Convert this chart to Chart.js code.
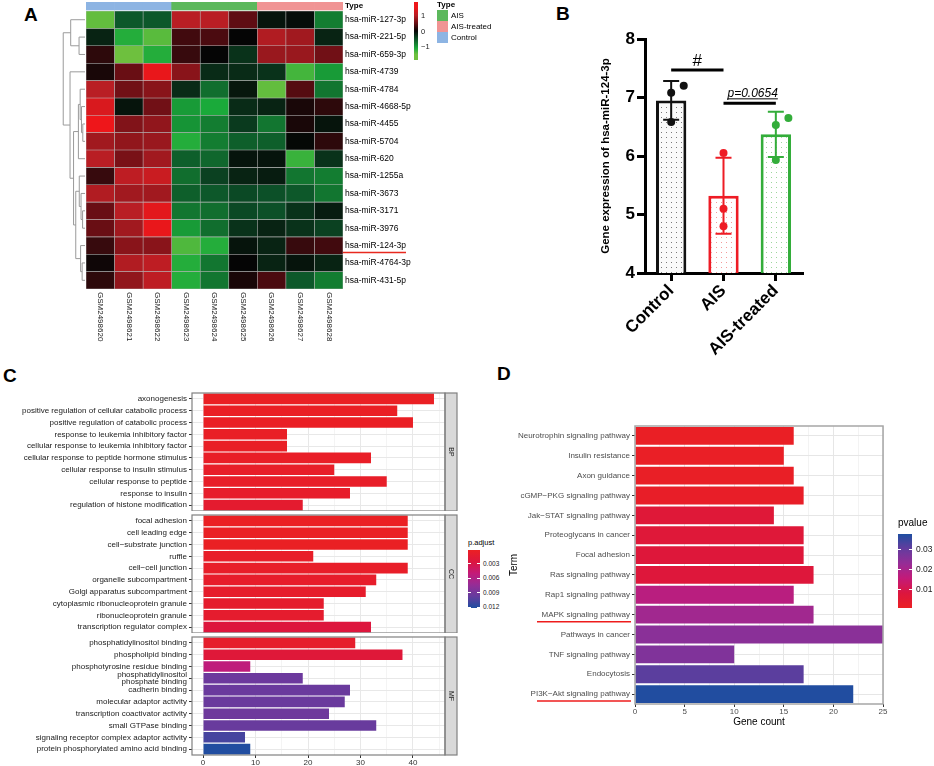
<!DOCTYPE html>
<html>
<head>
<meta charset="utf-8">
<title>miR-124-3p figure</title>
<script src="https://cdn.jsdelivr.net/npm/chart.js@4.4.1/dist/chart.umd.min.js"></script>
<style>
  body { margin: 0; background: #fff; }
  #page { position: relative; width: 934px; height: 766px; overflow: hidden; background: #fff;
          font-family: "Liberation Sans", Arial, sans-serif; color: #000; }
  #page canvas, #page .abs { position: absolute; }
  .panel { font-weight: bold; font-size: 19px; line-height: 1; }
</style>
</head>
<body>
<div id="page">
  <div class="abs panel" style="left:24px;top:5px">A</div>
  <div class="abs panel" style="left:556px;top:4px">B</div>
  <div class="abs panel" style="left:3px;top:366px">C</div>
  <div class="abs panel" style="left:497px;top:364px">D</div>
  <canvas id="heat" width="420" height="345" style="left:0;top:0"></canvas>
  <canvas id="expr" width="221" height="350" style="left:599px;top:20px"></canvas>
  <canvas id="goBP" width="460" height="119" style="left:0;top:392px"></canvas>
  <canvas id="goCC" width="460" height="119" style="left:0;top:514px"></canvas>
  <canvas id="goMF" width="460" height="131" style="left:0;top:636px"></canvas>
  <canvas id="kegg" width="426" height="328" style="left:508px;top:400px"></canvas>
</div>
<script>
Chart.defaults.font.family = '"Liberation Sans", Arial, sans-serif';
const FONT = '"Liberation Sans", Arial, sans-serif';

// ---- panel A : heatmap ----
const samples = ['GSM2498620', 'GSM2498621', 'GSM2498622', 'GSM2498623', 'GSM2498624',
                 'GSM2498625', 'GSM2498626', 'GSM2498627', 'GSM2498628'];
const sampleType = ['Control', 'Control', 'Control', 'AIS', 'AIS', 'AIS',
                    'AIS-treated', 'AIS-treated', 'AIS-treated'];
const typeLevels = ['AIS', 'AIS-treated', 'Control'];
const mirnas = ['hsa-miR-127-3p', 'hsa-miR-221-5p', 'hsa-miR-659-3p', 'hsa-miR-4739', 'hsa-miR-4784',
                'hsa-miR-4668-5p', 'hsa-miR-4455', 'hsa-miR-5704', 'hsa-miR-620', 'hsa-miR-1255a',
                'hsa-miR-3673', 'hsa-miR-3171', 'hsa-miR-3976', 'hsa-miR-124-3p', 'hsa-miR-4764-3p',
                'hsa-miR-431-5p'];
const zscores = [
  [-1.45, -0.55, -0.55, 1.0, 1.0, 0.45, -0.1, -0.05, -0.8],
  [-0.2, -1.15, -1.4, 0.3, 0.35, 0.0, 0.95, 0.85, -0.2],
  [0.2, -1.5, -1.15, 0.25, 0.0, -0.3, 0.8, 0.8, 0.55],
  [0.1, 0.5, 1.45, 0.7, -0.25, -0.25, -0.3, -1.3, -1.0],
  [1.0, 0.55, 0.7, -0.25, -0.7, -0.12, -1.45, 0.4, -0.75],
  [1.3, -0.1, 0.55, -1.0, -1.1, -0.25, -0.2, 0.1, 0.2],
  [1.5, 0.65, 0.75, -0.95, -0.8, -0.35, -0.75, 0.1, -0.1],
  [0.85, 0.75, 0.8, -1.15, -0.8, -0.6, -0.6, -0.02, 0.2],
  [1.0, 0.6, 0.85, -0.6, -0.65, -0.1, -0.1, -1.25, -0.3],
  [0.25, 1.05, 1.15, -0.7, -0.4, -0.2, -0.15, -0.75, -0.8],
  [0.95, 0.85, 0.85, -0.6, -0.55, -0.45, -0.5, -0.55, -0.75],
  [0.5, 1.0, 1.4, -0.75, -0.7, -0.45, -0.5, -0.3, -0.15],
  [0.5, 0.85, 1.45, -1.0, -0.7, -0.3, -0.2, -0.3, -0.4],
  [0.25, 0.7, 0.7, -1.35, -1.15, -0.1, -0.2, 0.25, 0.3],
  [0.05, 0.95, 1.05, -1.15, -0.75, 0.0, -0.2, -0.1, -0.2],
  [0.2, 0.75, 1.05, -1.15, -0.75, 0.1, 0.35, -0.55, -0.8]
];
// row clustering: [height, left, right], leaves are row indexes
const dendrogram = [9.9,
  [6.5, 0, [2.7, 1, 2]],
  [6.8, 3,
    [5.2,
      [3.0, [2.2, 4, [1.6, 5, [1.0, 6, 7]]], 8],
      [4.2, [2.6, 9, [1.8, 10, [1.1, 11, 12]]], [2.0, 13, [1.3, 14, 15]]]]]];
const keyRange = [-1.85, 1.85];
const keyTicks = [1, 0, -1];
const mirHighlight = 'hsa-miR-124-3p';

// ---- panel B ----
const groups = ['Control', 'AIS', 'AIS-treated'];
const groupMean = [6.95, 5.32, 6.37];
const groupSd = [0.33, 0.65, 0.385];
const groupPoints = [[7.08, 7.2, 6.58], [6.05, 5.1, 4.8], [6.53, 6.65, 5.93]];
const pointJitter = [[0, 0.24, 0], [0, 0, 0], [0, 0.24, 0]];
const comparisons = [{a: 0, b: 1, y: 7.47, text: '#'}, {a: 1, b: 2, y: 6.9, text: 'p=0.0654'}];

// ---- panel C : GO ----
const bpTerms = ['axonogenesis', 'positive regulation of cellular catabolic process',
  'positive regulation of catabolic process', 'response to leukemia inhibitory factor',
  'cellular response to leukemia inhibitory factor', 'cellular response to peptide hormone stimulus',
  'cellular response to insulin stimulus', 'cellular response to peptide', 'response to insulin',
  'regulation of histone modification'];
const bpCount = [44, 37, 40, 16, 16, 32, 25, 35, 28, 19];
const bpPadj = [0.0002, 0.0003, 0.0003, 0.0004, 0.0004, 0.0005, 0.0006, 0.0006, 0.0008, 0.0012];
const ccTerms = ['focal adhesion', 'cell leading edge', 'cell−substrate junction', 'ruffle',
  'cell−cell junction', 'organelle subcompartment', 'Golgi apparatus subcompartment',
  'cytoplasmic ribonucleoprotein granule', 'ribonucleoprotein granule', 'transcription regulator complex'];
const ccCount = [39, 39, 39, 21, 39, 33, 31, 23, 23, 32];
const ccPadj = [0.0001, 0.0002, 0.0002, 0.0006, 0.0006, 0.0008, 0.0009, 0.0010, 0.0011, 0.0024];
const mfTerms = ['phosphatidylinositol binding', 'phospholipid binding', 'phosphotyrosine residue binding',
  ['phosphatidylinositol', 'phosphate binding'], 'cadherin binding', 'molecular adaptor activity',
  'transcription coactivator activity', 'small GTPase binding',
  'signaling receptor complex adaptor activity', 'protein phosphorylated amino acid binding'];
const mfCount = [29, 38, 9, 19, 28, 27, 24, 33, 8, 9];
const mfPadj = [0.0009, 0.0021, 0.0052, 0.0094, 0.0095, 0.0095, 0.0093, 0.0096, 0.0108, 0.0121];
const padjRange = [0.0001, 0.0122];
const padjTicks = [0.003, 0.006, 0.009, 0.012];
const goTicks = [0, 5, 10, 15, 20, 25, 30, 35, 40, 45];

// ---- panel D : KEGG ----
const keggTerms = ['Neurotrophin signaling pathway', 'Insulin resistance', 'Axon guidance',
  'cGMP−PKG signaling pathway', 'Jak−STAT signaling pathway', 'Proteoglycans in cancer',
  'Focal adhesion', 'Ras signaling pathway', 'Rap1 signaling pathway', 'MAPK signaling pathway',
  'Pathways in cancer', 'TNF signaling pathway', 'Endocytosis', 'PI3K−Akt signaling pathway'];
const keggCount = [16, 15, 16, 17, 14, 17, 17, 18, 16, 18, 25, 10, 17, 22];
const keggP = [0.0010, 0.0012, 0.0014, 0.0018, 0.0062, 0.0065, 0.0068, 0.0070,
               0.0170, 0.0210, 0.0245, 0.0260, 0.0310, 0.0372];
const pvalRange = [0.0005, 0.0375];
const pvalTicks = [0.01, 0.02, 0.03];
const keggTicks = [0, 2.5, 5, 7.5, 10, 12.5, 15, 17.5, 20, 22.5, 25];
const keggHighlight = ['MAPK signaling pathway', 'PI3K−Akt signaling pathway'];

// ---- colours ----
const rgb = c => `rgb(${c.map(v => Math.round(v)).join(',')})`;
function ramp(stops, t) {
  if (t <= stops[0][0]) return rgb(stops[0][1]);
  for (let i = 1; i < stops.length; i++) {
    if (t <= stops[i][0]) {
      const [t0, c0] = stops[i - 1], [t1, c1] = stops[i];
      const f = (t - t0) / (t1 - t0);
      return rgb(c0.map((v, k) => v + (c1[k] - v) * f));
    }
  }
  return rgb(stops[stops.length - 1][1]);
}
const heatStops = [[-1.5, [110, 192, 62]], [-1.1, [26, 170, 58]], [-0.5, [12, 80, 40]], [0, [5, 5, 5]],
                   [0.5, [105, 14, 20]], [1.0, [185, 30, 36]], [1.5, [238, 22, 26]]];
const rbStops = [[0, [235, 32, 35]], [0.2, [220, 22, 62]], [0.4, [196, 26, 120]],
                 [0.6, [150, 44, 150]], [0.8, [100, 60, 158]], [1, [30, 78, 160]]];
const heatColor = v => ramp(heatStops, v);
const padjColor = p => ramp(rbStops, (p - padjRange[0]) / (padjRange[1] - padjRange[0]));
const pvalColor = p => ramp(rbStops, (p - pvalRange[0]) / (pvalRange[1] - pvalRange[0]));
const typeColor = {'Control': '#8db4e3', 'AIS': '#5cb85c', 'AIS-treated': '#f09494'};

// ================= A =================
const heatExtras = {
  id: 'heatExtras',
  afterDraw(chart) {
    const {ctx, chartArea: area, scales: {x, y}} = chart;
    ctx.save();
    ctx.fillStyle = '#222';
    ctx.font = '8px ' + FONT;
    ctx.textAlign = 'left';
    ctx.textBaseline = 'middle';
    samples.forEach((s, i) => {
      ctx.save();
      ctx.translate(x.getPixelForValue(i), area.bottom + 3);
      ctx.rotate(Math.PI / 2);
      ctx.fillText(s, 0, 0);
      ctx.restore();
    });
    // dendrogram
    ctx.strokeStyle = '#9a9a9a';
    ctx.lineWidth = 1;
    ctx.beginPath();
    const unit = 2.2;
    const walk = node => {
      if (typeof node === 'number') return {x: area.left - 1, y: y.getPixelForValue(node + 0.5)};
      const a = walk(node[1]), b = walk(node[2]);
      const nx = area.left - 1 - node[0] * unit;
      ctx.moveTo(a.x, a.y); ctx.lineTo(nx, a.y); ctx.lineTo(nx, b.y); ctx.lineTo(b.x, b.y);
      return {x: nx, y: (a.y + b.y) / 2};
    };
    walk(dendrogram);
    ctx.stroke();
    // highlight
    const r = mirnas.indexOf(mirHighlight);
    const uy = y.getPixelForValue(r + 0.5) + 7;
    ctx.strokeStyle = '#e8291f';
    ctx.lineWidth = 1.5;
    ctx.beginPath(); ctx.moveTo(area.right, uy); ctx.lineTo(area.right + 63, uy); ctx.stroke();
    ctx.restore();
  }
};

new Chart(document.getElementById('heat'), {
  type: 'bar',
  data: {
    labels: samples,
    datasets: [
      {data: samples.map(() => [-0.52, -0.06]), backgroundColor: sampleType.map(t => typeColor[t]), borderWidth: 0}
    ].concat(mirnas.map((m, r) => ({
      data: samples.map(() => [r, r + 1]),
      backgroundColor: zscores[r].map(heatColor),
      borderColor: 'rgba(150,150,150,0.55)',
      borderWidth: 0.6
    })))
  },
  options: {
    responsive: false, animation: false,
    layout: {padding: {left: 86, top: 2, bottom: 56, right: 0}},
    plugins: {legend: {display: false}, tooltip: {enabled: false}},
    datasets: {bar: {grouped: false, barPercentage: 1, categoryPercentage: 1, borderSkipped: false}},
    scales: {
      x: {display: false},
      y: {
        position: 'right', reverse: true, min: -0.52, max: 16,
        grid: {display: false, drawTicks: false}, border: {display: false},
        afterBuildTicks: ax => { ax.ticks = [{value: -0.29}].concat(mirnas.map((m, i) => ({value: i + 0.5}))); },
        ticks: {
          autoSkip: false, padding: 2, color: '#000',
          callback: (v, i) => i === 0 ? 'Type' : mirnas[i - 1],
          font: c => c.index === 0 ? {size: 8, weight: 'bold'} : {size: 8.5}
        },
        afterFit: ax => { ax.width = 77; ax.paddingTop = 0; ax.paddingBottom = 0; }
      }
    }
  },
  plugins: [heatExtras]
});

// ================= B =================
const exprCanvas = document.getElementById('expr');
const ectx = exprCanvas.getContext('2d');
function dots(bg, dot) {
  const t = document.createElement('canvas');
  t.width = 5; t.height = 5;
  const g = t.getContext('2d');
  g.fillStyle = bg; g.fillRect(0, 0, 5, 5);
  g.fillStyle = dot; g.fillRect(2, 2, 1, 1);
  return ectx.createPattern(t, 'repeat');
}
const groupColor = ['#111111', '#ee1c25', '#33ad3a'];
const groupFill = [dots('#fafafa', '#7a7a7a'), dots('#ffffff', '#f29a9a'), dots('#ffffff', '#9dd69d')];

const barExtras = {
  id: 'barExtras',
  beforeDatasetDraw(chart, args) {
    if (args.index !== 1) return;
    const {ctx, scales: {x, y}} = chart;
    ctx.save();
    ctx.lineWidth = 2;
    groupMean.forEach((m, i) => {
      const cx = x.getPixelForValue(i);
      const top = y.getPixelForValue(m + groupSd[i]), bot = y.getPixelForValue(m - groupSd[i]);
      ctx.strokeStyle = groupColor[i];
      ctx.beginPath();
      ctx.moveTo(cx, top); ctx.lineTo(cx, bot);
      ctx.moveTo(cx - 8, top); ctx.lineTo(cx + 8, top);
      ctx.moveTo(cx - 8, bot); ctx.lineTo(cx + 8, bot);
      ctx.stroke();
    });
    ctx.restore();
  },
  afterDatasetsDraw(chart) {
    const {ctx, scales: {x, y}} = chart;
    ctx.save();
    comparisons.forEach(c => {
      const x1 = x.getPixelForValue(c.a), x2 = x.getPixelForValue(c.b), ly = y.getPixelForValue(c.y);
      ctx.strokeStyle = '#000'; ctx.lineWidth = 3;
      ctx.beginPath(); ctx.moveTo(x1, ly); ctx.lineTo(x2, ly); ctx.stroke();
      ctx.fillStyle = '#000'; ctx.textAlign = 'center'; ctx.textBaseline = 'alphabetic';
      const mid = (x1 + x2) / 2;
      if (c.text === '#') {
        ctx.font = '17px ' + FONT;
        ctx.fillText(c.text, mid, ly - 4);
      } else {
        ctx.font = 'italic 12px ' + FONT;
        const w = ctx.measureText(c.text).width;
        ctx.fillText(c.text, mid + 3, ly - 6);
        ctx.lineWidth = 1;
        ctx.beginPath(); ctx.moveTo(mid + 3 - w / 2, ly - 4.5); ctx.lineTo(mid + 3 + w / 2, ly - 4.5); ctx.stroke();
      }
    });
    ctx.restore();
  }
};

const axisLine = {drawOnChartArea: false, offset: false, color: '#000', lineWidth: 3, tickLength: 8};
new Chart(exprCanvas, {
  type: 'bar',
  data: {
    datasets: [
      {order: 1, data: groupMean.map((m, i) => ({x: i, y: m})), backgroundColor: groupFill, borderColor: groupColor,
       borderWidth: 3, borderSkipped: 'start', grouped: false, barPercentage: 0.58, categoryPercentage: 1},
      {order: 0, type: 'scatter',
       data: groupPoints.flatMap((pts, g) => pts.map((v, k) => ({x: g + pointJitter[g][k], y: v}))),
       pointRadius: 4, pointBorderWidth: 0,
       pointBackgroundColor: groupPoints.flatMap((pts, g) => pts.map(() => groupColor[g]))}
    ]
  },
  options: {
    responsive: false, animation: false,
    layout: {padding: {top: 19, right: 18, left: 0, bottom: 0}},
    plugins: {legend: {display: false}, tooltip: {enabled: false}},
    scales: {
      x: {
        type: 'linear', min: -0.5, max: 2.5, offset: false,
        afterBuildTicks: ax => { ax.ticks = groups.map((g, i) => ({value: i})); },
        grid: axisLine, border: {color: '#000', width: 3},
        ticks: {color: '#000', font: {size: 17, weight: 'bold'}, maxRotation: 45, minRotation: 45, padding: 0,
                autoSkip: false, callback: v => groups[v]},
        afterFit: ax => { ax.height = 97; ax.paddingLeft = 0; ax.paddingRight = 0; }
      },
      y: {
        min: 4, max: 8,
        ticks: {stepSize: 1, color: '#000', font: {size: 17, weight: 'bold'}, padding: 2},
        grid: axisLine, border: {color: '#000', width: 3},
        title: {display: true, text: 'Gene expression of hsa-miR-124-3p', color: '#000',
                font: {size: 11.5, weight: 'bold'}, padding: {top: 0, bottom: 2}},
        afterFit: ax => { ax.width = 46; ax.paddingTop = 0; ax.paddingBottom = 0; }
      }
    }
  },
  plugins: [barExtras]
});

// ================= C =================
const facetStrip = {
  id: 'facetStrip',
  afterDatasetsDraw(chart, args, opts) {
    const {ctx, chartArea: a} = chart;
    ctx.save();
    ctx.fillStyle = '#d9d9d9';
    ctx.fillRect(a.right, a.top, 12, a.bottom - a.top);
    ctx.strokeStyle = '#808080'; ctx.lineWidth = 1.2;
    ctx.strokeRect(a.left, a.top, a.right - a.left, a.bottom - a.top);
    ctx.strokeRect(a.right, a.top, 12, a.bottom - a.top);
    ctx.fillStyle = '#1a1a1a'; ctx.font = '7px ' + FONT;
    ctx.textAlign = 'center'; ctx.textBaseline = 'middle';
    ctx.translate(a.right + 6, (a.top + a.bottom) / 2);
    ctx.rotate(Math.PI / 2);
    ctx.fillText(opts.label, 0, 0);
    ctx.restore();
  }
};

function goChart(id, terms, counts, padj, strip, showX) {
  return new Chart(document.getElementById(id), {
    type: 'bar',
    data: {labels: terms, datasets: [{data: counts, backgroundColor: padj.map(padjColor),
                                      barPercentage: 0.9, categoryPercentage: 1}]},
    options: {
      indexAxis: 'y', responsive: false, animation: false,
      layout: {padding: {top: 1, right: 15, left: 0, bottom: 0}},
      plugins: {legend: {display: false}, tooltip: {enabled: false}, facetStrip: {label: strip}},
      scales: {
        x: {
          min: -2.1, max: 46.1,
          afterBuildTicks: ax => { ax.ticks = goTicks.map(v => ({value: v})); },
          ticks: {display: showX, color: '#333', font: {size: 8}, padding: 0, maxRotation: 0, autoSkip: false,
                  callback: v => v % 10 === 0 ? v : ''},
          grid: {
            color: c => c.tick && c.tick.value % 10 === 0 ? '#e8e8e8' : '#f4f4f4',
            drawTicks: showX, tickLength: 3,
            tickColor: c => c.tick && c.tick.value % 10 === 0 ? '#333' : 'rgba(0,0,0,0)'
          },
          border: {display: false},
          afterFit: ax => { ax.height = showX ? 12 : 0; ax.paddingLeft = 0; ax.paddingRight = 0; }
        },
        y: {
          ticks: {color: '#1a1a1a', font: {size: 8, lineHeight: 0.95}, padding: 2, autoSkip: false},
          grid: {offset: false, color: '#e8e8e8', tickLength: 3, tickColor: '#333'},
          border: {display: false},
          afterFit: ax => { ax.width = 192; ax.paddingTop = 0; ax.paddingBottom = 0; }
        }
      }
    },
    plugins: [facetStrip]
  });
}
goChart('goBP', bpTerms, bpCount, bpPadj, 'BP', false);
goChart('goCC', ccTerms, ccCount, ccPadj, 'CC', false);
goChart('goMF', mfTerms, mfCount, mfPadj, 'MF', true);

// ================= D =================
const keggExtras = {
  id: 'keggExtras',
  afterDatasetsDraw(chart) {
    const {ctx, chartArea: a, scales: {y}} = chart;
    ctx.save();
    ctx.strokeStyle = '#a6a6a6'; ctx.lineWidth = 1.5;
    ctx.strokeRect(a.left, a.top, a.right - a.left, a.bottom - a.top);
    ctx.strokeStyle = '#ee1c1c'; ctx.lineWidth = 1.5;
    keggHighlight.forEach(t => {
      const uy = y.getPixelForValue(keggTerms.indexOf(t)) + 7;
      ctx.beginPath(); ctx.moveTo(a.left - 98, uy); ctx.lineTo(a.left - 4, uy); ctx.stroke();
    });
    ctx.restore();
  }
};

new Chart(document.getElementById('kegg'), {
  type: 'bar',
  data: {labels: keggTerms, datasets: [{data: keggCount, backgroundColor: keggP.map(pvalColor),
                                        barPercentage: 0.9, categoryPercentage: 1}]},
  options: {
    indexAxis: 'y', responsive: false, animation: false,
    layout: {padding: {top: 26, right: 51, left: 0, bottom: 0}},
    plugins: {legend: {display: false}, tooltip: {enabled: false}},
    scales: {
      x: {
        min: 0, max: 25,
        afterBuildTicks: ax => { ax.ticks = keggTicks.map(v => ({value: v})); },
        ticks: {color: '#4d4d4d', font: {size: 8}, padding: 0, autoSkip: false, maxRotation: 0,
                callback: v => v % 5 === 0 ? v : ''},
        grid: {
          color: c => c.tick && c.tick.value % 5 === 0 ? '#e6e6e6' : '#f3f3f3',
          tickLength: 3,
          tickColor: c => c.tick && c.tick.value % 5 === 0 ? '#333' : 'rgba(0,0,0,0)'
        },
        border: {display: false},
        title: {display: true, text: 'Gene count', color: '#000', font: {size: 10}, padding: {top: 0, bottom: 0}},
        afterFit: ax => { ax.height = 24; ax.paddingLeft = 0; ax.paddingRight = 0; }
      },
      y: {
        ticks: {color: '#4d4d4d', font: {size: 8}, padding: 2, autoSkip: false},
        grid: {offset: false, color: '#e6e6e6', tickLength: 3, tickColor: '#333'},
        border: {display: false},
        title: {display: true, text: 'Term', color: '#000', font: {size: 10}, padding: {top: 0, bottom: 0}},
        afterFit: ax => { ax.width = 127; ax.paddingTop = 0; ax.paddingBottom = 0; }
      }
    }
  },
  plugins: [keggExtras]
});

// ================= legends =================
const page = document.getElementById('page');
function addDiv(css, text) {
  const d = document.createElement('div');
  d.className = 'abs';
  Object.assign(d.style, css);
  if (text !== undefined) d.textContent = text;
  page.appendChild(d);
  return d;
}
function colorbar(o) {
  const stops = [];
  for (let k = 0; k <= 30; k++) {
    const f = k / 30;
    const v = o.topIsMax ? o.max - f * (o.max - o.min) : o.min + f * (o.max - o.min);
    stops.push(o.colorFn(v) + ' ' + (f * 100).toFixed(1) + '%');
  }
  addDiv({left: o.left + 'px', top: o.top + 'px', width: o.w + 'px', height: o.h + 'px',
          background: `linear-gradient(to bottom, ${stops.join(',')})`});
  o.ticks.forEach(v => {
    const yy = o.top + (o.topIsMax ? (o.max - v) : (v - o.min)) / (o.max - o.min) * o.h;
    if (o.marks) {
      addDiv({left: o.left + 'px', top: (yy - 0.5) + 'px', width: '3px', height: '1px', background: '#fff'});
      addDiv({left: (o.left + o.w - 3) + 'px', top: (yy - 0.5) + 'px', width: '3px', height: '1px', background: '#fff'});
    }
    addDiv({left: (o.left + o.w + o.gap) + 'px', top: (yy - o.size * 0.6) + 'px', fontSize: o.size + 'px',
            lineHeight: (o.size * 1.2) + 'px', color: '#222', whiteSpace: 'nowrap'}, o.fmt(v));
  });
  if (o.title) addDiv({left: o.left + 'px', top: o.titleTop + 'px', fontSize: o.titleSize + 'px',
                       lineHeight: '1', fontWeight: o.titleBold ? 'bold' : 'normal', whiteSpace: 'nowrap'}, o.title);
}

// A: value key and sample type legend
colorbar({left: 414, top: 2, w: 4, h: 58, min: keyRange[0], max: keyRange[1], topIsMax: true,
          colorFn: heatColor, ticks: keyTicks, fmt: v => String(v).replace('-', '−'), size: 7.5, gap: 3});
addDiv({left: '437px', top: '1px', fontSize: '8px', lineHeight: '1', fontWeight: 'bold'}, 'Type');
typeLevels.forEach((t, i) => {
  addDiv({left: '437px', top: (10 + i * 11) + 'px', width: '11px', height: '11px', background: typeColor[t]});
  addDiv({left: '451px', top: (10 + i * 11) + 'px', fontSize: '8px', lineHeight: '11px', whiteSpace: 'nowrap'}, t);
});

// C: p.adjust
colorbar({left: 468, top: 550, w: 12, h: 58, min: padjRange[0], max: padjRange[1], topIsMax: false,
          colorFn: padjColor, ticks: padjTicks, fmt: v => v.toFixed(3), size: 6.5, gap: 3, marks: true,
          title: 'p.adjust', titleTop: 539, titleSize: 7.5});

// D: pvalue
colorbar({left: 898, top: 534, w: 14, h: 74, min: pvalRange[0], max: pvalRange[1], topIsMax: true,
          colorFn: pvalColor, ticks: pvalTicks, fmt: v => v.toFixed(2), size: 8.5, gap: 4, marks: true,
          title: 'pvalue', titleTop: 518, titleSize: 10});
</script>
</body>
</html>
